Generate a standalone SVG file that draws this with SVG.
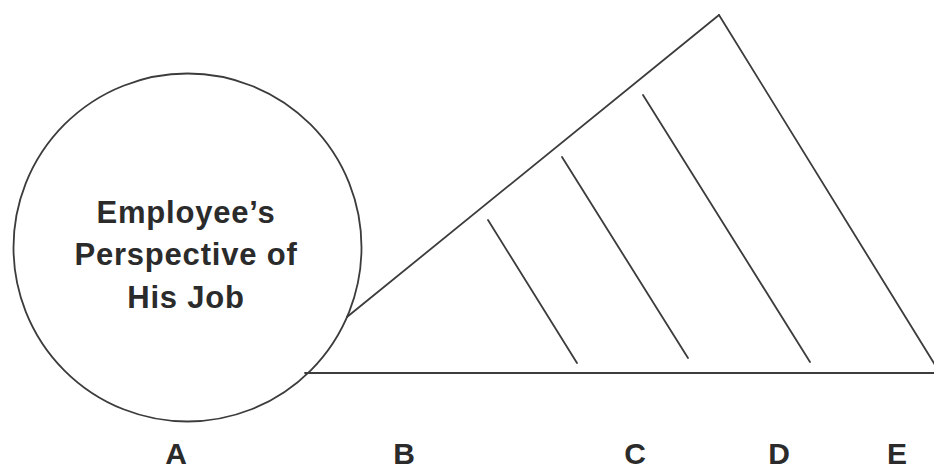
<svg xmlns="http://www.w3.org/2000/svg" width="934" height="469" viewBox="0 0 934 469">
<style>
.ln{stroke:#3c3c3c;stroke-width:1.8;fill:none;stroke-linecap:round}
.t{font-family:"Liberation Sans",Arial,sans-serif;font-weight:bold;fill:#2b2b2b;text-anchor:middle}
.ct{font-size:31px;letter-spacing:0.8px}
.lb{font-size:30px}
</style>
<rect width="934" height="469" fill="#fff"/>
<g id="circle">
<circle class="ln" cx="187.5" cy="247.5" r="174"/>
<text class="t ct" x="186" y="223">Employee’s</text>
<text class="t ct" x="186" y="265">Perspective of</text>
<text class="t ct" x="186" y="308">His Job</text>
</g>
<g id="connectors">
<line class="ln" x1="347" y1="317" x2="719" y2="15"/>
<line class="ln" x1="719" y1="15" x2="940" y2="373"/>
<line class="ln" x1="305" y1="373" x2="934" y2="373"/>
<line class="ln" x1="488" y1="220" x2="577" y2="363"/>
<line class="ln" x1="562" y1="157" x2="688" y2="358"/>
<line class="ln" x1="643" y1="95" x2="810" y2="362"/>
</g>
<g id="labels">
<text class="t lb" x="176" y="464">A</text>
<text class="t lb" x="404" y="464">B</text>
<text class="t lb" x="635" y="464">C</text>
<text class="t lb" x="779" y="464">D</text>
<text class="t lb" x="897" y="464">E</text>
</g>
</svg>
